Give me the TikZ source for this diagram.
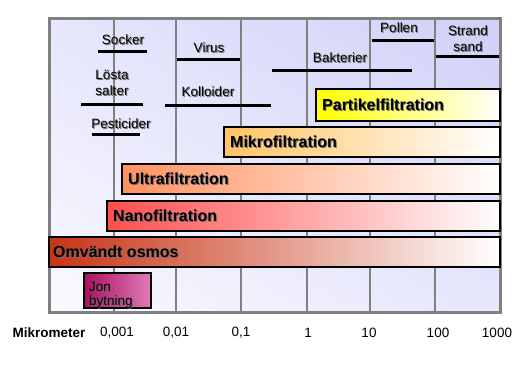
\documentclass[tikz,border=0pt]{standalone}
\usepackage{fontspec}
\setmainfont{Liberation Sans}
\usetikzlibrary{positioning,shadings}

\definecolor{bgtop}{RGB}{208,208,248}
\definecolor{bgmid}{RGB}{230,230,252}
\definecolor{bglow}{RGB}{250,250,255}
\definecolor{gridgray}{RGB}{128,128,128}
\definecolor{partcol}{RGB}{255,255,0}
\definecolor{mikrocol}{RGB}{255,196,100}
\definecolor{ultracol}{RGB}{255,146,96}
\definecolor{nanocol}{RGB}{255,78,78}
\definecolor{omvcol}{RGB}{200,52,22}
\definecolor{jonleft}{RGB}{172,16,98}
\definecolor{jonright}{RGB}{222,124,182}

\tikzset{
  sizelbl/.style={font=\fontsize{13.5}{16}\selectfont, inner sep=0pt, align=center},
  barlbl/.style={font=\bfseries\fontsize{16}{18}\selectfont, inner sep=0pt, anchor=west},
  axislbl/.style={font=\fontsize{13.5}{16}\selectfont, inner sep=0pt},
  sizeline/.style={line width=3pt, black},
  bar/.style={draw=black, line width=2pt},
}

% text with a grey shadow: name, position, style, text
\newcommand{\shlabel}[4]{%
  \node[#3, text=black!55, xshift=1pt, yshift=-1pt] at (#2) {#4};
  \node[#3, text=black] (#1) at (#2) {#4};}

\begin{document}
\begin{tikzpicture}[x=1pt, y=-1pt]
  \useasboundingbox (0,0) rectangle (524,372);

  % background and grid
  \shade[upper left=bgmid, upper right=bgtop, lower left=bglow, lower right=bgmid]
    (49,18) rectangle (500,312);
  \foreach \x in {114,176,241,307,370,435}
    \draw[gridgray, line width=2pt] (\x,18) -- (\x,312);
  \draw[gridgray, line width=3pt] (49,18) rectangle (500,312);

  % particle sizes
  \shlabel{socker}{123,40}{sizelbl}{Socker}
  \draw[sizeline] (98,51) -- (147,51);
  \shlabel{virus}{209,48}{sizelbl}{Virus}
  \draw[sizeline] (177,59) -- (240,59);
  \shlabel{salter}{112,83}{sizelbl}{Lösta\\salter}
  \draw[sizeline] (81,104) -- (143,104);
  \shlabel{kolloid}{208,92}{sizelbl}{Kolloider}
  \draw[sizeline] (165,105) -- (271,105);
  \shlabel{pestic}{121,124}{sizelbl}{Pesticider}
  \draw[sizeline] (92,134) -- (140,134);
  \shlabel{bakt}{340,58}{sizelbl}{Bakterier}
  \draw[sizeline] (272,70) -- (412,70);
  \shlabel{pollen}{399,28}{sizelbl}{Pollen}
  \draw[sizeline] (372,40) -- (434,40);
  \shlabel{sand}{468,39}{sizelbl}{Strand\\sand}
  \draw[sizeline] (436,56) -- (499,56);

  % separation processes
  \draw[bar, left color=partcol, right color=white] (316,89) rectangle (500,121);
  \shlabel{partikel}{322,105}{barlbl}{Partikelfiltration}
  \draw[bar, left color=mikrocol, right color=white] (224,127) rectangle (500,157);
  \shlabel{mikro}{230,142}{barlbl}{Mikrofiltration}
  \draw[bar, left color=ultracol, right color=white] (122,164) rectangle (500,194);
  \shlabel{ultra}{128,179}{barlbl}{Ultrafiltration}
  \draw[bar, left color=nanocol, right color=white] (107,201) rectangle (500,231);
  \shlabel{nano}{113,216}{barlbl}{Nanofiltration}
  \draw[bar, left color=omvcol, right color=white] (49,237) rectangle (500,267);
  \shlabel{omv}{53,252}{barlbl}{Omvändt osmos}
  \draw[bar, left color=jonleft, right color=jonright] (84,273) rectangle (151,308);
  \node[sizelbl, anchor=west, align=left, font=\fontsize{13.5}{14}\selectfont,
        xshift=0.8pt, yshift=-0.8pt] at (89,295) {\color{black!60}Jon\\\color{black!60}bytning};
  \node[sizelbl, anchor=west, align=left, font=\fontsize{13.5}{14}\selectfont]
        (jon) at (89,295) {\color{black}Jon\\\color{black}bytning};

  % axis
  \node[axislbl, font=\bfseries\fontsize{13.5}{16}\selectfont] (unit) at (49,333) {Mikrometer};
  \node[axislbl] (t1) at (117,333) {0,001};
  \node[axislbl] (t2) at (176,333) {0,01};
  \node[axislbl] (t3) at (241,333) {0,1};
  \node[axislbl] (t4) at (308,333) {1};
  \node[axislbl] (t5) at (369,333) {10};
  \node[axislbl] (t6) at (438,333) {100};
  \node[axislbl] (t7) at (497,333) {1000};
\end{tikzpicture}
\end{document}
